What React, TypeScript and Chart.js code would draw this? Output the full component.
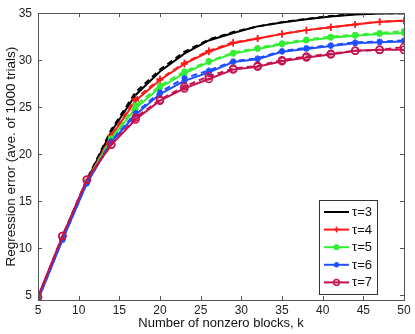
import React, { useEffect, useRef } from 'react';
import { Chart, registerables } from 'chart.js';

Chart.register(...registerables);

const kValues = [5, 8, 11, 14, 17, 20, 23, 26, 29, 32, 35, 38, 41, 44, 47, 50];

const tau3 = [4.8, 11.1, 17.2, 22.4, 26.3, 28.8, 30.7, 32.1, 32.9, 33.6, 34.0, 34.35, 34.65, 34.85, 34.97, 35.0];
const tau4 = [4.7, 11.0, 17.1, 21.9, 25.7, 27.9, 29.6, 30.9, 31.8, 32.3, 32.8, 33.2, 33.5, 33.8, 34.1, 34.2];
const tau5 = [4.7, 10.9, 17.1, 21.6, 24.9, 27.1, 28.6, 29.8, 30.7, 31.2, 31.7, 32.1, 32.4, 32.6, 32.8, 32.9];
const tau6 = [4.5, 10.9, 16.9, 21.3, 24.2, 26.4, 27.8, 28.7, 29.8, 30.1, 30.9, 31.2, 31.5, 31.8, 31.9, 32.0];
const tau7 = [4.8, 11.3, 17.3, 21.0, 23.7, 25.7, 27.0, 28.0, 29.0, 29.3, 29.9, 30.3, 30.6, 31.0, 31.1, 31.1];

const tau3Dashed = [4.8, 11.1, 17.3, 22.6, 26.6, 29.0, 30.9, 32.2, 33.0, 33.6, 34.05, 34.4, 34.7, 34.9, 35.0, 35.0];
const tau4Dashed = [4.7, 11.0, 17.1, 22.0, 25.9, 28.0, 29.7, 31.0, 31.9, 32.3, 32.8, 33.2, 33.5, 33.8, 34.1, 34.2];
const tau5Dashed = [4.7, 10.9, 17.1, 21.7, 25.2, 27.3, 28.8, 29.9, 30.8, 31.3, 31.8, 32.2, 32.5, 32.7, 32.9, 33.1];
const tau6Dashed = [4.5, 10.9, 16.9, 21.4, 24.4, 26.6, 28.1, 28.9, 29.9, 30.2, 31.0, 31.3, 31.6, 31.9, 32.0, 32.1];
const tau7Dashed = [4.8, 11.3, 17.3, 21.0, 23.9, 25.8, 27.2, 28.3, 29.1, 29.4, 30.0, 30.4, 30.7, 31.0, 31.1, 31.4];

const seriesLabels = ['τ=3', 'τ=4', 'τ=5', 'τ=6', 'τ=7'];
const xTicks = [5, 10, 15, 20, 25, 30, 35, 40, 45, 50];
const yTicks = [5, 10, 15, 20, 25, 30, 35];
const xTitle = 'Number of nonzero blocks, k';
const yTitle = 'Regression error (ave. of 1000 trials)';

const solidSeries = [tau3, tau4, tau5, tau6, tau7];
const dashedSeries = [tau3Dashed, tau4Dashed, tau5Dashed, tau6Dashed, tau7Dashed];

type Style = { color: string; pointStyle: any; radius: number; filled: boolean };
const styles: Style[] = [
  { color: '#000000', pointStyle: false, radius: 0, filled: false },
  { color: '#ff1a1a', pointStyle: 'cross', radius: 3.5, filled: false },
  { color: '#33ee33', pointStyle: 'circle', radius: 2.3, filled: true },
  { color: '#1f4fff', pointStyle: 'star', radius: 3, filled: false },
  { color: '#c41250', pointStyle: 'circle', radius: 3.5, filled: false },
];

const FONT = "'Liberation Sans', Arial, Helvetica, sans-serif";

function drawMarker(ctx: CanvasRenderingContext2D, s: Style, x: number, y: number, r: number) {
  ctx.save();
  ctx.strokeStyle = s.color;
  ctx.fillStyle = s.color;
  ctx.lineWidth = 1.5;
  ctx.beginPath();
  if (s.pointStyle === 'cross') {
    ctx.moveTo(x - r, y); ctx.lineTo(x + r, y);
    ctx.moveTo(x, y - r); ctx.lineTo(x, y + r);
    ctx.stroke();
  } else if (s.pointStyle === 'star') {
    ctx.moveTo(x - r, y); ctx.lineTo(x + r, y);
    ctx.moveTo(x, y - r); ctx.lineTo(x, y + r);
    const d = r * 0.7;
    ctx.moveTo(x - d, y - d); ctx.lineTo(x + d, y + d);
    ctx.moveTo(x - d, y + d); ctx.lineTo(x + d, y - d);
    ctx.stroke();
  } else if (s.pointStyle === 'circle') {
    ctx.arc(x, y, r, 0, Math.PI * 2);
    if (s.filled) ctx.fill();
    ctx.stroke();
  }
  ctx.restore();
}

const framePlugin = {
  id: 'frameTicks',
  afterDraw(chart: any) {
    const { ctx, chartArea } = chart;
    const { left, right, top, bottom } = chartArea;
    const xs = chart.scales.x;
    const ys = chart.scales.y;
    ctx.save();
    ctx.strokeStyle = '#555555';
    ctx.lineWidth = 1;
    ctx.strokeRect(Math.round(left) + 0.5, Math.round(top) + 0.5, Math.round(right - left), Math.round(bottom - top));
    const tl = 4;
    ctx.beginPath();
    xTicks.forEach((v) => {
      const px = Math.round(xs.getPixelForValue(v)) + 0.5;
      ctx.moveTo(px, bottom); ctx.lineTo(px, bottom - tl);
      ctx.moveTo(px, top); ctx.lineTo(px, top + tl);
    });
    yTicks.forEach((v) => {
      const py = Math.round(ys.getPixelForValue(v)) + 0.5;
      ctx.moveTo(left, py); ctx.lineTo(left + tl, py);
      ctx.moveTo(right, py); ctx.lineTo(right - tl, py);
    });
    ctx.stroke();

    // legend
    const bx = 319, by = 200, bw = 58, bh = 94;
    ctx.fillStyle = '#ffffff';
    ctx.fillRect(bx, by, bw, bh);
    ctx.strokeStyle = '#333333';
    ctx.strokeRect(bx + 0.5, by + 0.5, bw, bh);
    ctx.font = `13px ${FONT}`;
    ctx.textBaseline = 'middle';
    ctx.textAlign = 'left';
    seriesLabels.forEach((label, i) => {
      const y = by + 12 + i * 17.6;
      const s = styles[i];
      ctx.strokeStyle = s.color;
      ctx.lineWidth = 2;
      ctx.beginPath();
      ctx.moveTo(324, y); ctx.lineTo(349, y);
      ctx.stroke();
      if (s.pointStyle) drawMarker(ctx, s, 336.5, y, Math.min(s.radius, 2.8));
      ctx.fillStyle = '#111111';
      ctx.fillText(label, 352, y + 0.5);
    });
    ctx.restore();
  },
};

export default function App() {
  const ref = useRef<HTMLCanvasElement | null>(null);
  useEffect(() => {
    if (!ref.current) return;
    const datasets: any[] = [];
    solidSeries.forEach((arr, i) => {
      const s = styles[i];
      const common = {
        borderColor: s.color,
        backgroundColor: s.filled ? s.color : 'rgba(0,0,0,0)',
        pointBorderColor: s.color,
        pointBackgroundColor: s.filled ? s.color : 'rgba(0,0,0,0)',
        pointStyle: s.pointStyle,
        pointRadius: s.radius,
        pointBorderWidth: 1.5,
        pointHoverRadius: s.radius,
        borderWidth: 2,
        tension: 0,
        fill: false,
        order: 10 - i * 2,
      };
      datasets.push({
        ...common,
        label: seriesLabels[i],
        data: kValues.map((k, j) => ({ x: k, y: arr[j] })),
      });
      datasets.push({
        ...common,
        label: seriesLabels[i] + ' (dashed)',
        borderDash: [6, 4],
        order: 10 - i * 2 + 1,
        data: kValues.map((k, j) => ({ x: k, y: dashedSeries[i][j] })),
      });
    });

    const chart = new Chart(ref.current, {
      type: 'line',
      data: { datasets },
      plugins: [framePlugin],
      options: {
        animation: false,
        responsive: true,
        maintainAspectRatio: false,
        layout: { padding: { top: 13, right: 11, left: 0, bottom: 0 } },
        plugins: { legend: { display: false }, tooltip: { enabled: false } },
        scales: {
          x: {
            type: 'linear',
            min: 5,
            max: 50,
            grid: { display: false, drawTicks: false, tickLength: 0 },
            border: { display: false },
            afterBuildTicks: (scale: any) => { scale.ticks = xTicks.map((v) => ({ value: v })); },
            afterFit: (scale: any) => { scale.height = 34; },
            ticks: { color: '#222222', font: { family: FONT, size: 12 }, padding: 3, maxRotation: 0, autoSkip: false },
            title: { display: true, text: xTitle, color: '#111111', font: { family: FONT, size: 13 }, padding: { top: 0, bottom: 3 } },
          },
          y: {
            type: 'linear',
            min: 4.5,
            max: 35,
            grid: { display: false, drawTicks: false, tickLength: 0 },
            border: { display: false },
            afterBuildTicks: (scale: any) => { scale.ticks = yTicks.map((v) => ({ value: v })); },
            afterFit: (scale: any) => { scale.width = 38; },
            ticks: { color: '#222222', font: { family: FONT, size: 12 }, padding: 6, autoSkip: false },
            title: { display: true, text: yTitle, color: '#111111', font: { family: FONT, size: 13.5 }, padding: { top: 3, bottom: 0 } },
          },
        },
      },
    });
    return () => chart.destroy();
  }, []);

  return (
    <div style={{ position: 'fixed', left: 0, top: 0, width: 415, height: 334, background: '#ffffff' }}>
      <canvas ref={ref} />
    </div>
  );
}
